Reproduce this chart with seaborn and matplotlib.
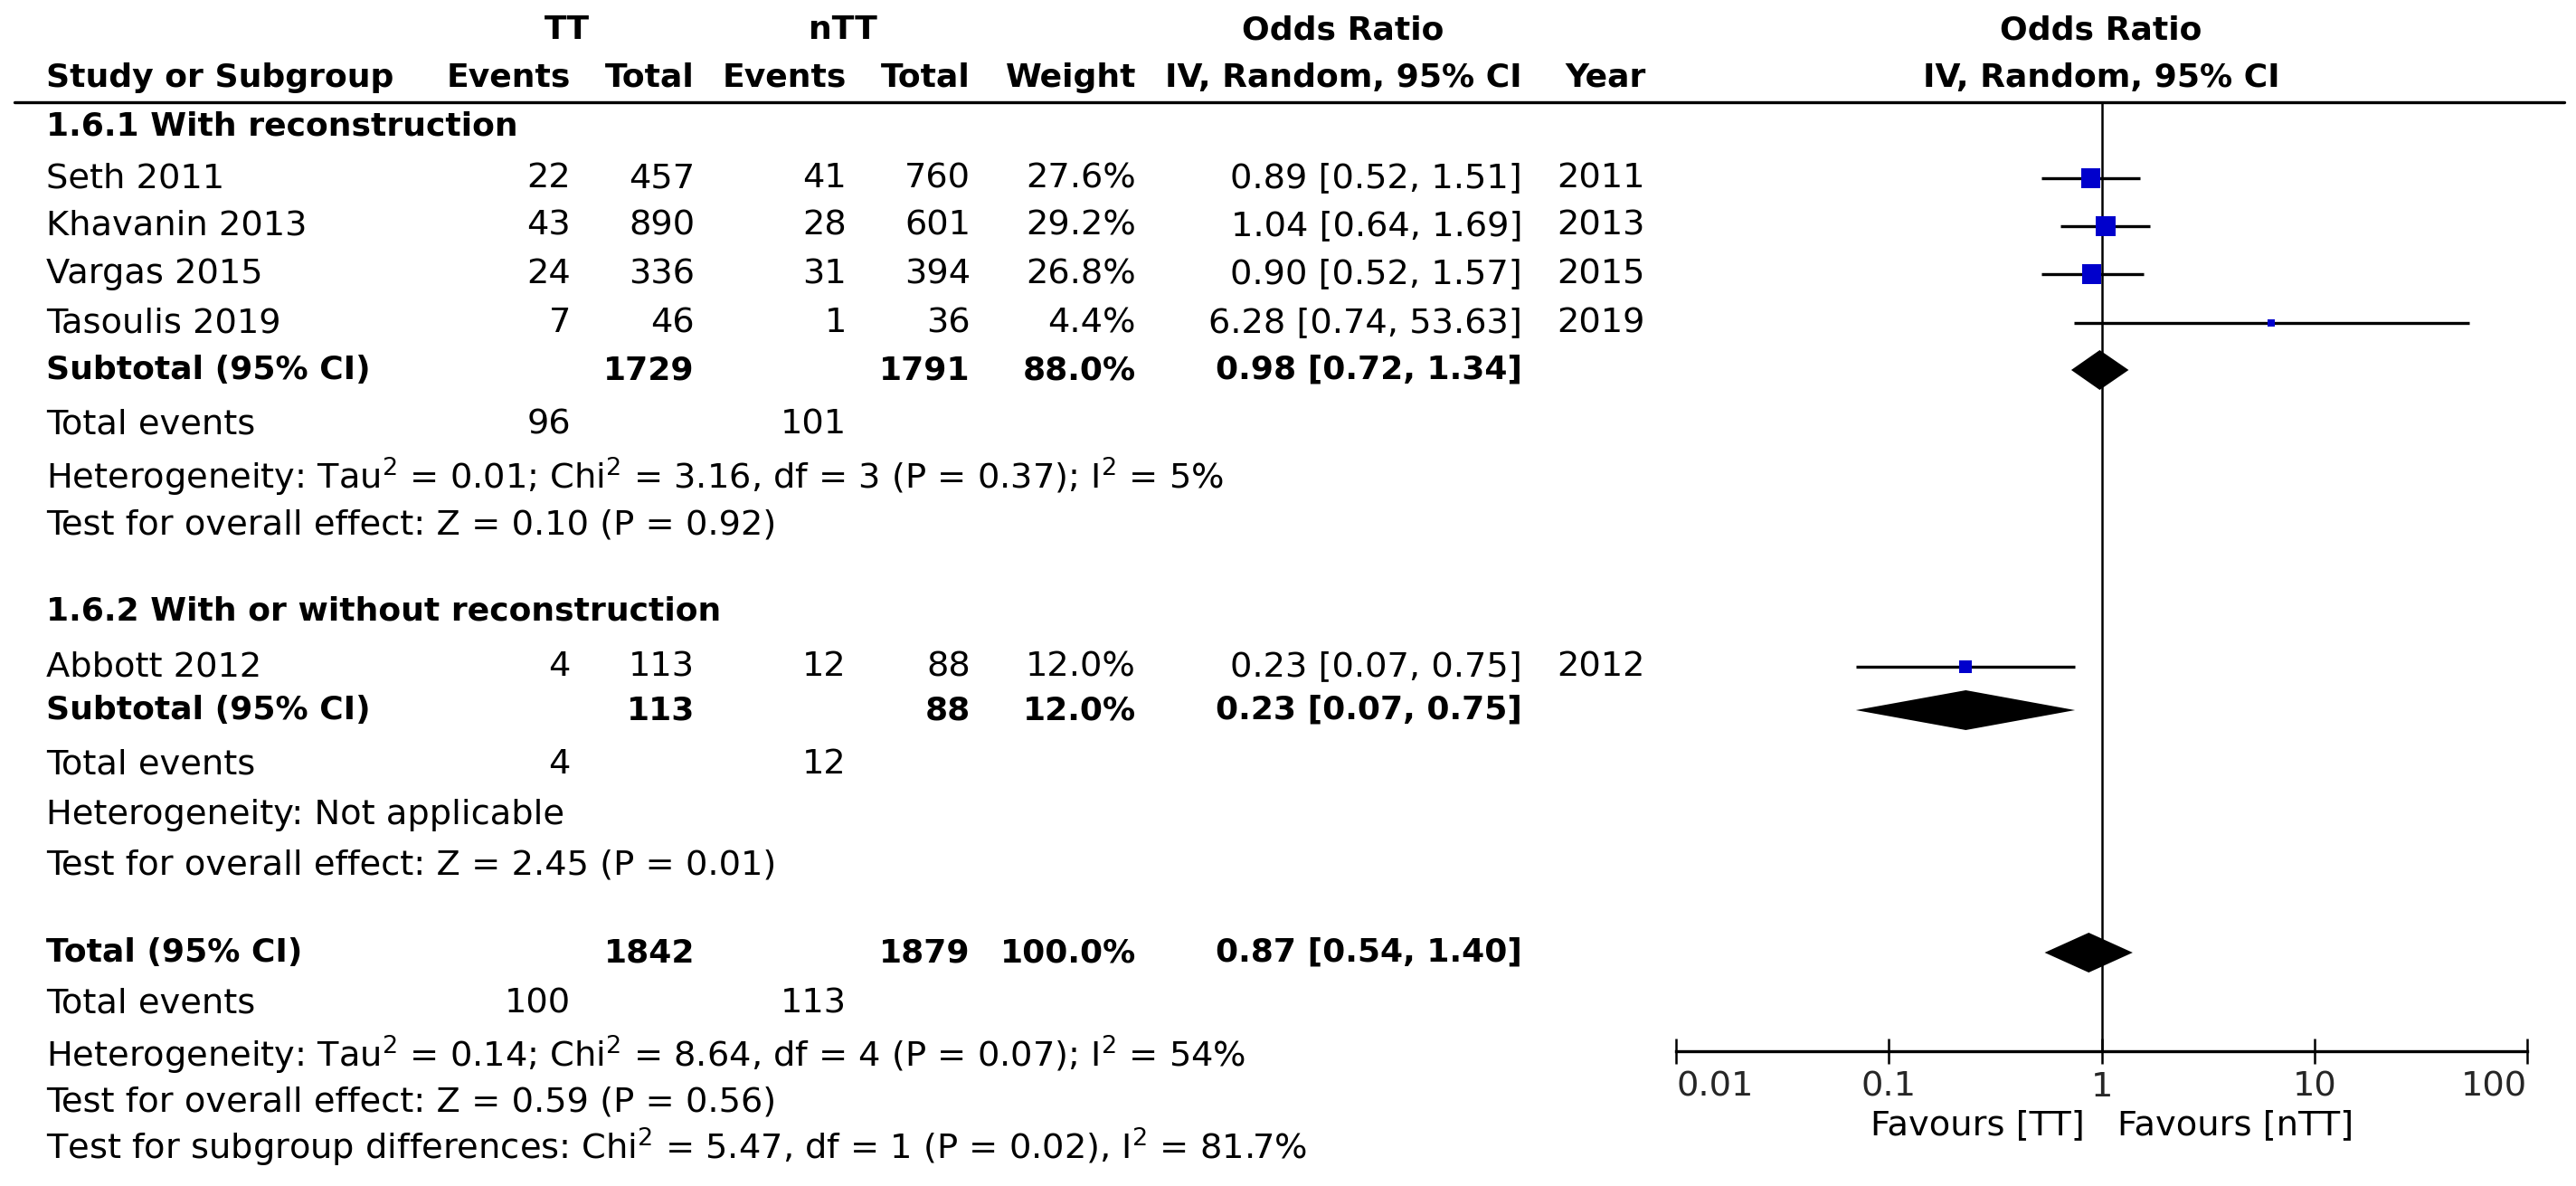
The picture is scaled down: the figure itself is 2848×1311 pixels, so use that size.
import matplotlib
matplotlib.use("Agg")
import matplotlib.pyplot as plt
from matplotlib.lines import Line2D
import seaborn as sns
import pandas as pd

###Data###
studies = ['Seth 2011', 'Khavanin 2013', 'Vargas 2015', 'Tasoulis 2019', 'Abbott 2012']
subgroup = [0, 0, 0, 0, 1]
tt_events = [22, 43, 24, 7, 4]
tt_total = [457, 890, 336, 46, 113]
ntt_events = [41, 28, 31, 1, 12]
ntt_total = [760, 601, 394, 36, 88]
weight = [27.6, 29.2, 26.8, 4.4, 12.0]
odds = [0.89, 1.04, 0.90, 6.28, 0.23]
ci_low = [0.52, 0.64, 0.52, 0.74, 0.07]
ci_high = [1.51, 1.69, 1.57, 53.63, 0.75]
years = [2011, 2013, 2015, 2019, 2012]

sub_names = ['1.6.1 With reconstruction', '1.6.2 With or without reconstruction']
sub_tt_total = [1729, 113]
sub_ntt_total = [1791, 88]
sub_tt_events = [96, 4]
sub_ntt_events = [101, 12]
sub_weight = [88.0, 12.0]
sub_or = [0.98, 0.23]
sub_low = [0.72, 0.07]
sub_high = [1.34, 0.75]
sub_het = ['Heterogeneity: Tau$^{2}$ = 0.01; Chi$^{2}$ = 3.16, df = 3 (P = 0.37); I$^{2}$ = 5%',
           'Heterogeneity: Not applicable']
sub_test = ['Test for overall effect: Z = 0.10 (P = 0.92)',
            'Test for overall effect: Z = 2.45 (P = 0.01)']

tot_tt_total = 1842
tot_ntt_total = 1879
tot_tt_events = 100
tot_ntt_events = 113
tot_weight = 100.0
tot_or = 0.87
tot_low = 0.54
tot_high = 1.40
tot_het = 'Heterogeneity: Tau$^{2}$ = 0.14; Chi$^{2}$ = 8.64, df = 4 (P = 0.07); I$^{2}$ = 54%'
tot_test = 'Test for overall effect: Z = 0.59 (P = 0.56)'
subgroup_test = 'Test for subgroup differences: Chi$^{2}$ = 5.47, df = 1 (P = 0.02), I$^{2}$ = 81.7%'

axis_ticks = [0.01, 0.1, 1, 10, 100]
axis_labels = ['0.01', '0.1', '1', '10', '100']

###Layout (pixels from top)###
W, H = 2848, 1311
study_rows = [197, 250, 303, 357, 737]
sub_header_rows = [140, 676]
sub_rows = [409, 785]
sub_events_rows = [469, 845]
sub_het_rows = [527, 901]
sub_test_rows = [580, 957]
tot_row, tot_events_row, tot_het_row, tot_test_row, subgroup_row = 1053, 1110, 1166, 1219, 1268
col_x = {'label': 51, 'tte': 631, 'ttt': 768, 'ntte': 936, 'nttt': 1073,
         'w': 1256, 'or': 1683, 'year': 1770}
FS = 27.6
FS_BOLD = 26

sns.set_style('white')
plt.rcParams['font.family'] = ['DejaVu Sans']
plt.rcParams['mathtext.fontset'] = 'dejavusans'

fig = plt.figure(figsize=(W / 100, H / 100), dpi=100)


def put(x, y, s, ha='left', bold=False):
    fig.text(x / W, 1 - y / H, s, ha=ha, va='center',
             fontsize=FS_BOLD if bold else FS,
             fontweight='bold' if bold else 'normal', color='black')


def fmt_or(o, l, h):
    return f"{o:.2f} [{l:.2f}, {h:.2f}]"


# headers
put(627, 33, 'TT', 'center', True)
put(932, 33, 'nTT', 'center', True)
put(1485, 33, 'Odds Ratio', 'center', True)
put(2323, 33, 'Odds Ratio', 'center', True)
put(col_x['label'], 86, 'Study or Subgroup', bold=True)
put(col_x['tte'], 86, 'Events', 'right', True)
put(col_x['ttt'], 86, 'Total', 'right', True)
put(col_x['ntte'], 86, 'Events', 'right', True)
put(col_x['nttt'], 86, 'Total', 'right', True)
put(col_x['w'], 86, 'Weight', 'right', True)
put(col_x['or'], 86, 'IV, Random, 95% CI', 'right', True)
put(1775, 86, 'Year', 'center', True)
put(2323, 86, 'IV, Random, 95% CI', 'center', True)
fig.add_artist(Line2D([16 / W, 2835 / W], [1 - 113 / H] * 2, lw=2.4, color='black'))

# study rows
for i, name in enumerate(studies):
    y = study_rows[i]
    put(col_x['label'], y, name)
    put(col_x['tte'], y, str(tt_events[i]), 'right')
    put(col_x['ttt'], y, str(tt_total[i]), 'right')
    put(col_x['ntte'], y, str(ntt_events[i]), 'right')
    put(col_x['nttt'], y, str(ntt_total[i]), 'right')
    put(col_x['w'], y, f"{weight[i]:.1f}%", 'right')
    put(col_x['or'], y, fmt_or(odds[i], ci_low[i], ci_high[i]), 'right')
    put(col_x['year'], y, str(years[i]), 'center')

# subgroup rows
for g, name in enumerate(sub_names):
    put(col_x['label'], sub_header_rows[g], name, bold=True)
    y = sub_rows[g]
    put(col_x['label'], y, 'Subtotal (95% CI)', bold=True)
    put(col_x['ttt'], y, str(sub_tt_total[g]), 'right', True)
    put(col_x['nttt'], y, str(sub_ntt_total[g]), 'right', True)
    put(col_x['w'], y, f"{sub_weight[g]:.1f}%", 'right', True)
    put(col_x['or'], y, fmt_or(sub_or[g], sub_low[g], sub_high[g]), 'right', True)
    y = sub_events_rows[g]
    put(col_x['label'], y, 'Total events')
    put(col_x['tte'], y, str(sub_tt_events[g]), 'right')
    put(col_x['ntte'], y, str(sub_ntt_events[g]), 'right')
    put(col_x['label'], sub_het_rows[g], sub_het[g])
    put(col_x['label'], sub_test_rows[g], sub_test[g])

# overall
put(col_x['label'], tot_row, 'Total (95% CI)', bold=True)
put(col_x['ttt'], tot_row, str(tot_tt_total), 'right', True)
put(col_x['nttt'], tot_row, str(tot_ntt_total), 'right', True)
put(col_x['w'], tot_row, f"{tot_weight:.1f}%", 'right', True)
put(col_x['or'], tot_row, fmt_or(tot_or, tot_low, tot_high), 'right', True)
put(col_x['label'], tot_events_row, 'Total events')
put(col_x['tte'], tot_events_row, str(tot_tt_events), 'right')
put(col_x['ntte'], tot_events_row, str(tot_ntt_events), 'right')
put(col_x['label'], tot_het_row, tot_het)
put(col_x['label'], tot_test_row, tot_test)
put(col_x['label'], subgroup_row, subgroup_test)

###Forest panel###
ax = fig.add_axes([1853 / W, (H - 1162) / H, (2794 - 1853) / W, (1162 - 113) / H])
ax.set_xscale('log')
ax.set_xlim(0.01, 100)
ax.set_ylim(1162, 113)
ax.axvline(1, color='black', lw=1.8, zorder=1)

ax.hlines(study_rows, ci_low, ci_high, color='black', lw=2.4, zorder=2)
df = pd.DataFrame({'odds': odds, 'row': study_rows, 'weight': weight})
sns.scatterplot(data=df, x='odds', y='row', size='weight',
                sizes=(8.6 * min(weight), 8.6 * max(weight)),
                size_norm=(min(weight), max(weight)),
                marker='s', color='#0000cc', linewidth=0, legend=False,
                zorder=3, ax=ax)

half = 22
diamonds = list(zip(sub_or, sub_low, sub_high, sub_rows)) + [(tot_or, tot_low, tot_high, tot_row)]
for o, l, h, y in diamonds:
    ax.fill([l, o, h, o], [y, y - half, y, y + half], color='black', lw=0, zorder=3)

for s in ['top', 'left', 'right']:
    ax.spines[s].set_visible(False)
ax.spines['bottom'].set_linewidth(2.4)
ax.spines['bottom'].set_color('black')
ax.set_xticks(axis_ticks)
ax.set_xticklabels(axis_labels)
ax.minorticks_off()
ax.set_yticks([])
ax.set_xlabel('')
ax.set_ylabel('')
ax.tick_params(axis='x', which='major', bottom=True, direction='inout', length=19.5,
               width=1.8, labelsize=FS, pad=6, color='black')
labs = ax.get_xticklabels()
labs[0].set_ha('left')
labs[-1].set_ha('right')

put(2305, 1244, 'Favours [TT]', 'right')
put(2341, 1244, 'Favours [nTT]', 'left')

fig.savefig('out.png', dpi=100, facecolor='white')
